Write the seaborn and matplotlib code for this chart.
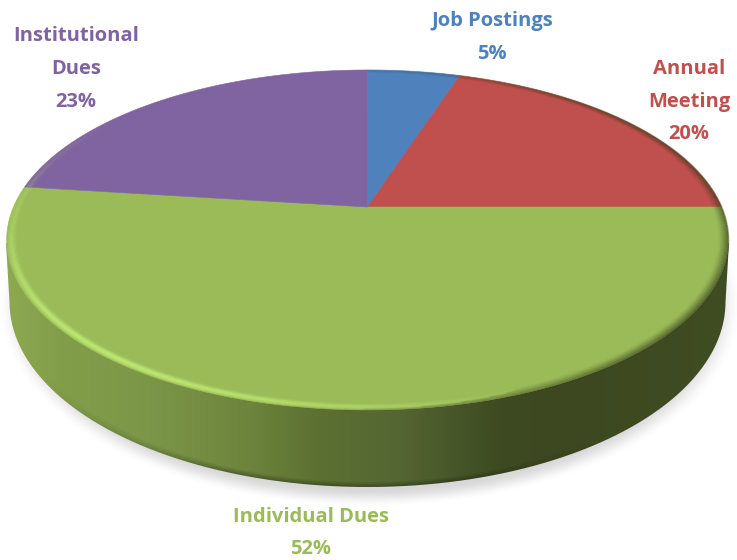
import numpy as np
import matplotlib
matplotlib.use("Agg")
import matplotlib.pyplot as plt
from matplotlib.collections import LineCollection
from matplotlib.patches import PathPatch
from matplotlib.path import Path
import seaborn as sns

# ---- data (clockwise from 12 o'clock) ----
categories = ["Job Postings", "Annual\nMeeting", "Individual Dues", "Institutional\nDues"]
shares = [5, 20, 52, 23]
slice_colors = ["#4F81BD", "#C0504D", "#9BBB59", "#8064A2"]
label_xy = [(492, 37.5), (689, 101.5), (311, 533), (76, 69)]

sns.set_theme(style="white")
plt.rcParams["font.family"] = ["Open Sans", "DejaVu Sans"]
palette = sns.color_palette(slice_colors)

W, H = 737, 560
fig = plt.figure(figsize=(W / 100, H / 100), dpi=100)
ax = fig.add_axes([0, 0, 1, 1])

CX, CY, RX, RY, K = 367.5, 207.0, 354.0, 163.6, 0.194


def project(theta, r=1.0):
    """Perspective view of the pie disc; theta runs clockwise from the top."""
    u, v = r * np.sin(theta), r * np.cos(theta)
    d = 1 + K * v
    return CX + RX * u / d, CY - RY * v / d


yy, xx = np.mgrid[0:H, 0:W] + 0.5

# drop shadow
d = np.sqrt(((xx - 370) / 372) ** 2 + ((yy - 305) / 202) ** 2)
t = np.clip((1.0 - d) / 0.09, 0, 1)
sh = np.zeros((H, W, 4))
sh[..., :3] = 0.45
sh[..., 3] = 0.28 * t * t * (3 - 2 * t)
ax.imshow(sh, extent=(0, W, H, 0), aspect="auto", zorder=1, interpolation="bilinear")

# side wall: gradient image clipped to the wall outline
BX, BY, BA, BB = 367.5, 302.0, 358.0, 185.0
gx = [0, 10, 60, 150, 250, 320, 400, 450, 500, 560, 737]
gc = np.array([
    [142, 170, 82], [140, 168, 80], [130, 158, 74], [124, 150, 72], [108, 132, 60],
    [92, 112, 50], [84, 102, 50], [72, 88, 42], [62, 74, 33], [61, 72, 32], [64, 76, 34],
], float) / 255
grad = np.stack([np.interp(xx, gx, gc[:, i]) for i in range(3)], axis=-1)
depth = np.clip((1 - np.sqrt(((xx - BX) / BA) ** 2 + ((yy - BY) / BB) ** 2)) / 0.03, 0, 1)
fade = np.clip((xx - 40) / 200, 0, 1) * np.clip((600 - xx) / 150, 0, 1)
grad = grad * (1 - 0.3 * (1 - depth) * fade)[..., None]
im = ax.imshow(np.clip(grad, 0, 1), extent=(0, W, H, 0), aspect="auto", zorder=2,
               interpolation="bilinear")
a = np.linspace(np.pi, 0, 200)
wall = np.column_stack([BX + BA * np.cos(a), BY + BB * np.sin(a)])
wall = np.vstack([wall, [[729, 243], [6, 243], wall[0]]])
im.set_clip_path(PathPatch(Path(wall), transform=ax.transData))

# top surface: one polygon per share
edges = np.cumsum([0] + shares) / sum(shares) * 2 * np.pi
for s, e, c in zip(edges[:-1], edges[1:], palette):
    th = np.linspace(s, e, 240)
    px, py = project(th)
    ax.fill(np.r_[CX, px], np.r_[CY, py], color=c, lw=0.4, zorder=3)

# bevel on the rim: light on the front-left, dark on the front-right and right
th = np.linspace(0, 2 * np.pi, 721)
deg = np.degrees(th)
light = np.exp(-(((deg - 222) / 40) ** 2))
dark = np.exp(-(((deg - 115) / 48) ** 2))
soft = 0.35 * np.exp(-(((deg - 50) / 35) ** 2))
for r in np.linspace(0.962, 1.0, 14):
    px, py = project(th, r)
    pts = np.column_stack([px, py])
    segs = np.stack([pts[:-1], pts[1:]], axis=1)
    pl = np.exp(-(((r - 0.987) / 0.009) ** 2))
    pd = np.clip((r - 0.972) / 0.028, 0, 1) ** 1.5
    rgba = np.zeros((len(segs), 4))
    al = light[:-1] * pl * 0.7
    ad = (dark[:-1] + soft[:-1]) * pd * 0.5
    rgba[:, :3] = np.where((al > ad)[:, None], [[0.76, 0.93, 0.46]], [[0.20, 0.24, 0.10]])
    rgba[:, 3] = np.maximum(al, ad)
    ax.add_collection(LineCollection(segs, colors=rgba, linewidths=1.3, zorder=4))

# labels
for name, share, (x, y), c in zip(categories, shares, label_xy, palette):
    ax.text(x, y, f"{name}\n{share}%", color=c, fontsize=14.5, fontweight="bold",
            ha="center", va="center", linespacing=1.86, zorder=5, multialignment="center")

ax.set_xlim(0, W)
ax.set_ylim(H, 0)
ax.axis("off")
fig.savefig("out.png", dpi=100, facecolor="white")
